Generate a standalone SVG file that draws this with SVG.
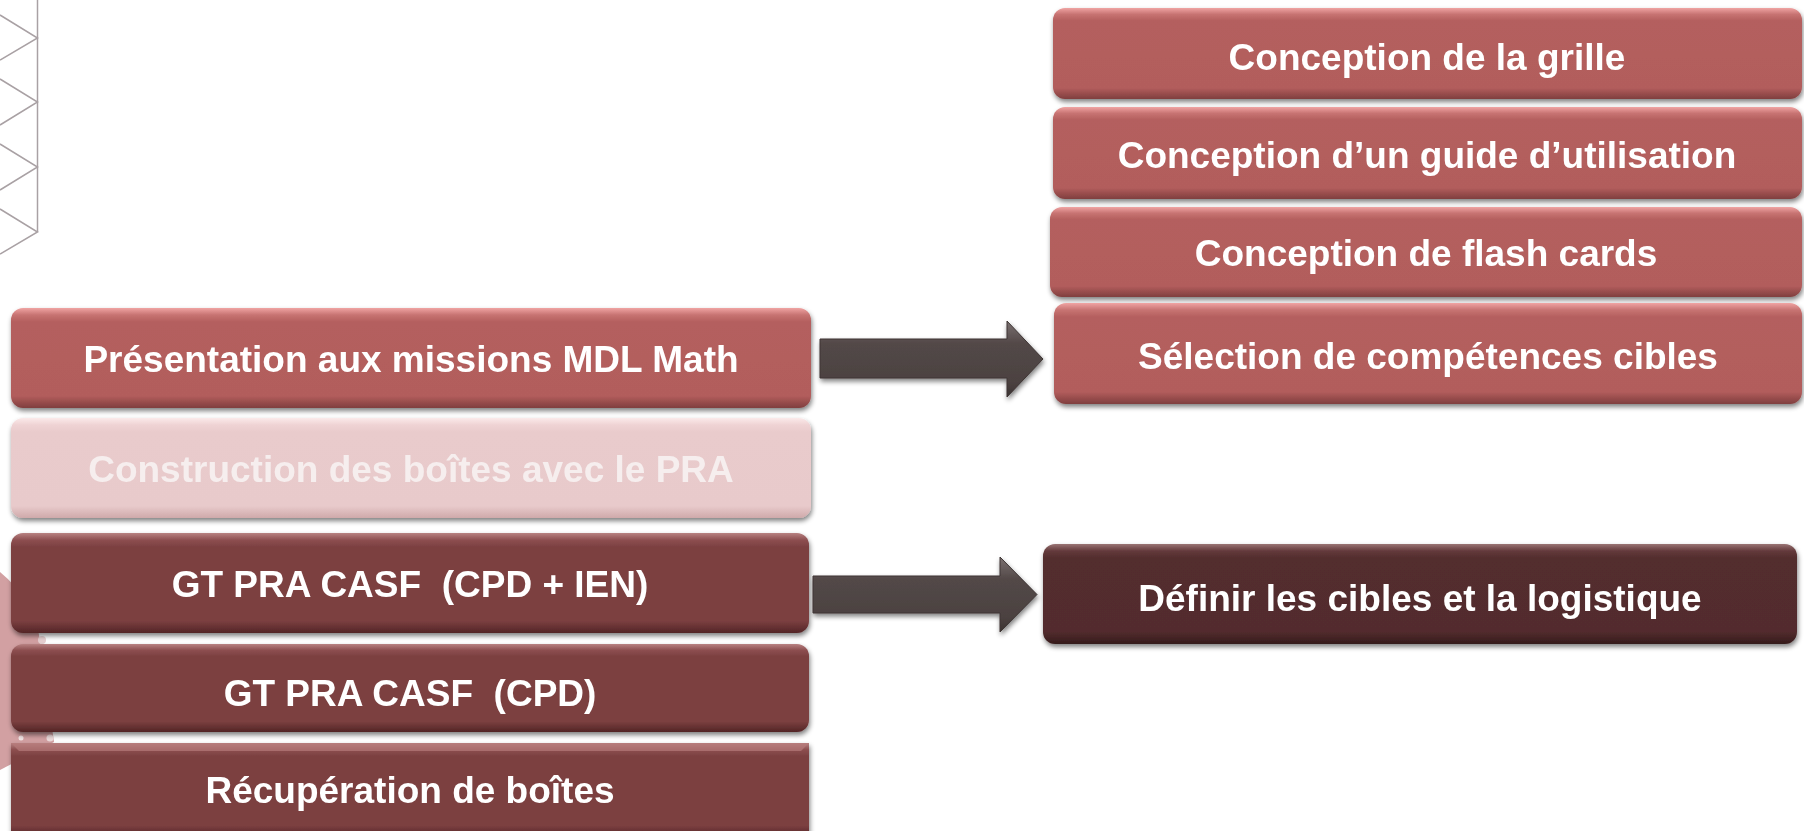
<svg xmlns="http://www.w3.org/2000/svg" width="1804" height="831" viewBox="0 0 1804 831">
<style>
.t{font-family:"Liberation Sans",Arial,sans-serif;font-weight:bold;font-size:37px;fill:#ffffff;text-anchor:middle;white-space:pre}
.tf{fill:#f6eeee}
.deco{fill:none;stroke:#a9a1a4;stroke-width:1.5}
</style>
<defs>
<filter id="sh" x="-5%" y="-20%" width="110%" height="150%">
<feGaussianBlur in="SourceAlpha" stdDeviation="2.5"/>
<feOffset dx="1" dy="3" result="b"/>
<feComponentTransfer><feFuncA type="linear" slope="0.5"/></feComponentTransfer>
<feMerge><feMergeNode/><feMergeNode in="SourceGraphic"/></feMerge>
</filter>
<linearGradient id="gL" x1="0" y1="0" x2="0" y2="1">
<stop offset="0" stop-color="#f0a4a3"/>
<stop offset="0.07" stop-color="#c77372"/>
<stop offset="0.14" stop-color="#b45f5e"/>
<stop offset="0.88" stop-color="#b25d5c"/>
<stop offset="1" stop-color="#7f3e3e"/>
</linearGradient>
<linearGradient id="gF" x1="0" y1="0" x2="0" y2="1">
<stop offset="0" stop-color="#fbeaea"/>
<stop offset="0.07" stop-color="#efd3d4"/>
<stop offset="0.14" stop-color="#e9cbcc"/>
<stop offset="0.88" stop-color="#e8cacb"/>
<stop offset="1" stop-color="#cfa9aa"/>
</linearGradient>
<linearGradient id="gD" x1="0" y1="0" x2="0" y2="1">
<stop offset="0" stop-color="#b88282"/>
<stop offset="0.07" stop-color="#8d4f50"/>
<stop offset="0.14" stop-color="#7c4041"/>
<stop offset="0.88" stop-color="#7b3f40"/>
<stop offset="1" stop-color="#532526"/>
</linearGradient>
<linearGradient id="gX" x1="0" y1="0" x2="0" y2="1">
<stop offset="0" stop-color="#9a7474"/>
<stop offset="0.07" stop-color="#633a3b"/>
<stop offset="0.14" stop-color="#532d2e"/>
<stop offset="0.88" stop-color="#522c2d"/>
<stop offset="1" stop-color="#351a1b"/>
</linearGradient>
<linearGradient id="gA" x1="0" y1="0" x2="0" y2="1">
<stop offset="0" stop-color="#7a7070"/>
<stop offset="0.3" stop-color="#524847"/>
<stop offset="0.8" stop-color="#4c4241"/>
<stop offset="1" stop-color="#3a3231"/>
</linearGradient>
</defs>

<g id="decoration">
<polyline class="deco" points="37.5,0 37.5,232"/>
<polyline class="deco" points="0,15 37.5,38 0,60"/>
<polyline class="deco" points="0,79 37.5,102 0,125"/>
<polyline class="deco" points="0,144 37.5,167 0,190"/>
<polyline class="deco" points="0,209 37.5,232 0,254"/>
<path d="M0,572 Q34,600 40,640 L54,742 L0,770 Z" fill="#d2a0a2"/>
<circle cx="42" cy="640" r="4" fill="#e6cfd0"/>
<circle cx="21" cy="738" r="2.5" fill="#f1e3e3"/>
<circle cx="50" cy="738" r="3.5" fill="#ecdada"/>
</g>

<g id="n1" filter="url(#sh)">
<rect x="11" y="308" width="800" height="100" rx="12" fill="url(#gL)"/>
<text class="t" x="411" y="372">Présentation aux missions MDL Math</text>
</g>
<g id="n2" filter="url(#sh)">
<rect x="11" y="418" width="800" height="100" rx="12" fill="url(#gF)"/>
<text class="t tf" x="411" y="482">Construction des boîtes avec le PRA</text>
</g>
<g id="n3" filter="url(#sh)">
<rect x="11" y="533" width="798" height="100" rx="12" fill="url(#gD)"/>
<text class="t" x="410" y="597" xml:space="preserve">GT PRA CASF  (CPD + IEN)</text>
</g>
<g id="n4" filter="url(#sh)">
<rect x="11" y="644" width="798" height="88" rx="12" fill="url(#gD)"/>
<text class="t" x="410" y="706" xml:space="preserve">GT PRA CASF  (CPD)</text>
</g>
<g id="n5" filter="url(#sh)">
<rect x="11" y="743" width="798" height="94" fill="url(#gD)"/>
<path d="M11,743 L809,743 L801,751 L19,751 Z" fill="#b77b7b" opacity="0.7"/>
<text class="t" x="410" y="803">Récupération de boîtes</text>
</g>

<g id="r1" filter="url(#sh)">
<rect x="1053" y="8" width="749" height="91" rx="12" fill="url(#gL)"/>
<text class="t" x="1427" y="70">Conception de la grille</text>
</g>
<g id="r2" filter="url(#sh)">
<rect x="1053" y="107" width="749" height="92" rx="12" fill="url(#gL)"/>
<text class="t" x="1427" y="168">Conception d’un guide d’utilisation</text>
</g>
<g id="r3" filter="url(#sh)">
<rect x="1050" y="207" width="752" height="90" rx="12" fill="url(#gL)"/>
<text class="t" x="1426" y="266">Conception de flash cards</text>
</g>
<g id="r4" filter="url(#sh)">
<rect x="1054" y="303" width="748" height="101" rx="12" fill="url(#gL)"/>
<text class="t" x="1428" y="369">Sélection de compétences cibles</text>
</g>
<g id="r5" filter="url(#sh)">
<rect x="1043" y="544" width="754" height="100" rx="12" fill="url(#gX)"/>
<text class="t" x="1420" y="611">Définir les cibles et la logistique</text>
</g>

<g id="connectors" filter="url(#sh)">
<polygon points="820,339 1007,339 1007,321 1043,359 1007,397 1007,378 820,378" fill="url(#gA)" stroke="#3e3534" stroke-width="1"/>
<polygon points="813,576 1000,576 1000,557 1037,594.5 1000,632 1000,613 813,613" fill="url(#gA)" stroke="#3e3534" stroke-width="1"/>
</g>
</svg>
